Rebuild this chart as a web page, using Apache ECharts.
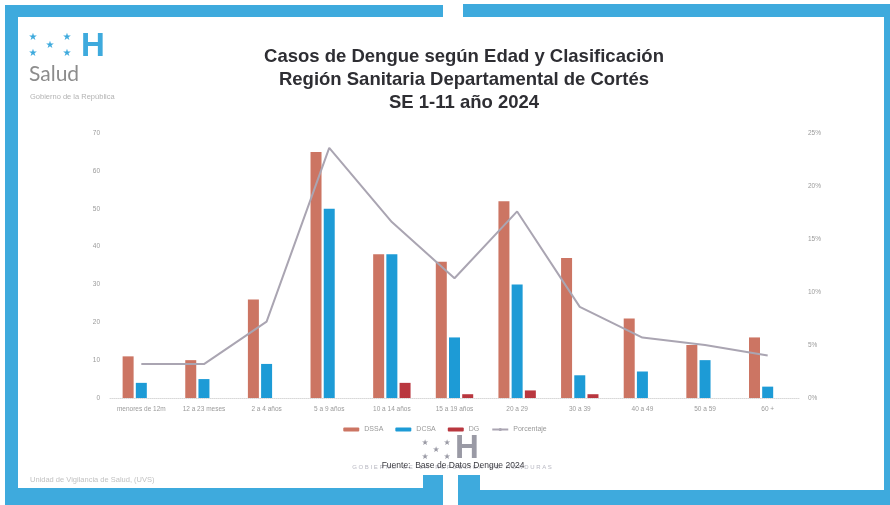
<!DOCTYPE html>
<html>
<head>
    <meta http-equiv="Content-Type" content="text/html; charset=utf-8"/>
    <title>Dengue Cortés</title>
    <style>
        html, body { margin: 0; padding: 0; background: #fff; }
        #main { width: 890px; height: 505px; }
    </style>
    <script src="https://cdn.jsdelivr.net/npm/echarts@6/dist/echarts.min.js"></script>
</head>
<body>
<div id="main"></div>
<script type="text/javascript">
    // datos
    var categorias = ['menores de 12m', '12 a 23 meses', '2 a 4 años', '5 a 9 años', '10 a 14 años',
        '15 a 19 años', '20 a 29', '30 a 39', '40 a 49', '50 a 59', '60 +'];
    var dssa = [11, 10, 26, 65, 38, 36, 52, 37, 21, 14, 16];
    var dcsa = [4, 5, 9, 50, 38, 16, 30, 6, 7, 10, 3];
    var dg = [0, 0, 0, 0, 4, 1, 2, 1, 0, 0, 0];
    var porcentaje = [3.2, 3.2, 7.2, 23.6, 16.6, 11.3, 17.6, 8.6, 5.7, 5.0, 4.0];

    var azul = '#3eaadd';
    var grisLogo = '#9a9aa5';

    // estrellas del logo (posiciones relativas)
    function estrellas(cx, cy, dx, dy, size, color) {
        var pos = [[0, 0], [2, 0], [1, 1], [0, 2], [2, 2]];
        var out = [];
        for (var i = 0; i < pos.length; i++) {
            out.push({
                type: 'text',
                x: cx + pos[i][0] * dx,
                y: cy + pos[i][1] * dy,
                style: { text: '★', fill: color, fontSize: size, align: 'center', verticalAlign: 'middle', fontFamily: 'DejaVu Sans' }
            });
        }
        return out;
    }

    var myChart = echarts.init(document.getElementById('main'));
    var option = {
        backgroundColor: '#fff',
        animation: false,
        title: {
            text: 'Casos de Dengue según Edad y Clasificación\nRegión Sanitaria Departamental de Cortés\nSE 1-11 año 2024',
            left: 459,
            top: 40,
            textAlign: 'center',
            textStyle: {
                fontFamily: 'Liberation Sans',
                fontSize: 18.5,
                fontWeight: 'bold',
                color: '#2e2e33',
                lineHeight: 23
            }
        },
        legend: {
            data: ['DSSA', 'DCSA', 'DG', 'Porcentaje'],
            left: 'center',
            top: 421,
            itemWidth: 16,
            itemHeight: 4,
            itemGap: 12,
            textStyle: { fontSize: 7, color: '#999', fontFamily: 'Liberation Sans' }
        },
        grid: {
            left: 110,
            right: 91,
            top: 133,
            bottom: 107
        },
        xAxis: {
            type: 'category',
            data: categorias,
            axisTick: { show: false },
            axisLine: { lineStyle: { color: '#d8d8d8', type: 'dotted' } },
            axisLabel: { interval: 0, fontSize: 6.5, color: '#9a9a9a', margin: 8, fontFamily: 'Liberation Sans' }
        },
        yAxis: [
            {
                type: 'value',
                min: 0,
                max: 70,
                interval: 10,
                splitLine: { show: false },
                axisLabel: { fontSize: 6.5, color: '#9a9a9a', margin: 10, fontFamily: 'Liberation Sans' }
            },
            {
                type: 'value',
                min: 0,
                max: 25,
                interval: 5,
                splitLine: { show: false },
                axisLabel: { fontSize: 6.5, color: '#9a9a9a', margin: 9, formatter: '{value}%', fontFamily: 'Liberation Sans' }
            }
        ],
        series: [
            {
                name: 'DSSA',
                type: 'bar',
                barWidth: 11,
                barGap: '20%',
                itemStyle: { color: '#cc7563' },
                data: dssa
            },
            {
                name: 'DCSA',
                type: 'bar',
                barWidth: 11,
                barGap: '20%',
                itemStyle: { color: '#1d9bd6' },
                data: dcsa
            },
            {
                name: 'DG',
                type: 'bar',
                barWidth: 11,
                barGap: '20%',
                itemStyle: { color: '#b9373f' },
                data: dg
            },
            {
                name: 'Porcentaje',
                type: 'line',
                yAxisIndex: 1,
                symbol: 'none',
                lineStyle: { color: '#aaa5b2', width: 2 },
                itemStyle: { color: '#aaa5b2' },
                data: porcentaje
            }
        ],
        graphic: [
            // marco azul
            { type: 'rect', shape: { x: 5, y: 5, width: 13, height: 497 }, style: { fill: azul } },
            { type: 'rect', shape: { x: 5, y: 5, width: 438, height: 12 }, style: { fill: azul } },
            { type: 'rect', shape: { x: 463, y: 4, width: 427, height: 13 }, style: { fill: azul } },
            { type: 'rect', shape: { x: 884, y: 4, width: 6, height: 501 }, style: { fill: azul } },
            { type: 'rect', shape: { x: 5, y: 488, width: 438, height: 17 }, style: { fill: azul } },
            { type: 'rect', shape: { x: 458, y: 490, width: 432, height: 15 }, style: { fill: azul } },
            { type: 'rect', shape: { x: 423, y: 475, width: 20, height: 15 }, style: { fill: azul } },
            { type: 'rect', shape: { x: 458, y: 475, width: 22, height: 16 }, style: { fill: azul } },
            // logo arriba izquierda
            { type: 'text', x: 81, y: 30, style: { text: 'H', fill: azul, fontSize: 33, fontWeight: 'bold', fontFamily: 'Liberation Sans' } },
            { type: 'text', x: 29, y: 64, style: { text: 'Salud', fill: '#8c8c8c', fontSize: 21, fontFamily: 'Lato' } },
            { type: 'text', x: 30, y: 93, style: { text: 'Gobierno de la República', fill: '#b3b3b3', fontSize: 7.5, fontFamily: 'Liberation Sans' } },
            // logo central y fuente
            { type: 'text', x: 455, y: 432, style: { text: 'H', fill: grisLogo, fontSize: 33, fontWeight: 'bold', fontFamily: 'Liberation Sans' } },
            { type: 'text', x: 452, y: 467, style: { text: 'G O B I E R N O    D E    L A    R E P Ú B L I C A    D E    H O N D U R A S', fill: '#b8b8c2', fontSize: 6, align: 'center', verticalAlign: 'middle', fontFamily: 'Liberation Sans' } },
            { type: 'text', x: 453, y: 466, style: { text: 'Fuente:  Base de Datos Dengue 2024', fill: '#3a3a40', fontSize: 8.5, align: 'center', verticalAlign: 'middle', fontFamily: 'Liberation Sans' } },
            // pie izquierda
            { type: 'text', x: 30, y: 476, style: { text: 'Unidad de Vigilancia de Salud, (UVS)', fill: '#c2c2c2', fontSize: 7.5, fontFamily: 'Liberation Sans' } }
        ].concat(estrellas(33, 37, 17, 8, 10, azul), estrellas(425, 443, 11, 7, 8, grisLogo))
    };
    myChart.setOption(option);
</script>
</body>
</html>
